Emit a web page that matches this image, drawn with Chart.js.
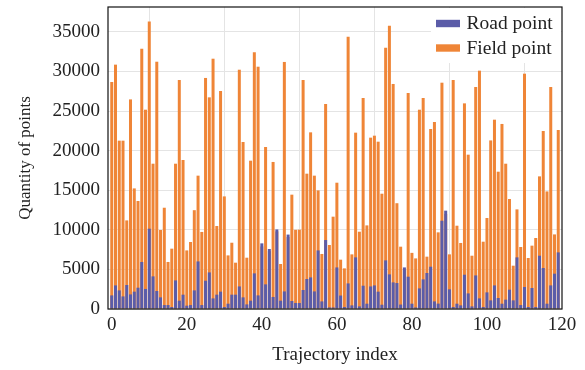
<!DOCTYPE html>
<html>
<head>
<meta charset="utf-8">
<script src="https://cdn.jsdelivr.net/npm/chart.js@4"></script>
<style>
html,body{margin:0;padding:0;background:#fff;}
#wrap{width:585px;height:370px;}
</style>
</head>
<body>
<div id="wrap"><canvas id="c" width="585" height="370"></canvas></div>
<script>
const seriesNames = ["Road point", "Field point"];
const roadPoints = [
 1720,2980,2350,1590,3030,1840,2190,2690,5940,2530,
 10140,4120,2270,1470,500,500,250,3610,1050,1810,
 420,500,2350,6010,500,3570,4620,1340,1810,2190,
 250,670,1810,1810,2850,1470,580,1050,4500,1720,
 8290,3110,7580,1520,10050,1050,2220,9400,1010,760,
 760,2400,3790,3990,2220,7400,960,8710,200,200,
 5250,1700,250,3230,460,6520,330,2940,670,2850,
 2980,2190,540,6140,4370,3360,3280,560,5250,4080,
 670,200,2600,3740,4550,5340,960,680,11150,12420,
 2480,250,670,460,4330,1970,330,4240,1340,250,
 2100,1090,2980,1390,670,1180,2440,1090,6520,500,
 2780,250,2650,250,6730,5180,670,2980,4460,7150
];
const fieldPoints = [
 28670,30860,21260,21260,11190,26470,15230,13640,32880,25170,
 36320,18350,31230,9980,12790,5940,7620,18350,28920,18820,
 7400,8460,12480,16840,9730,29180,26730,31610,10480,27530,
 14220,6770,8370,5850,30220,21090,6480,18730,32410,30600,
 7900,20460,7300,18570,9800,5680,31200,9100,14440,10000,
 10020,28920,17090,22310,16840,14980,6950,25890,8080,11660,
 15950,6230,5130,34390,6900,22270,9760,26650,10560,21640,
 21890,21130,14560,33000,35780,28420,13360,7870,5000,27280,
 7090,6390,25170,26650,6610,22730,23620,9680,28580,12000,
 6900,28920,10520,8340,25970,19490,6730,28040,30100,8500,
 11490,21290,23910,17340,23370,18350,13890,5470,12580,7830,
 29720,6440,8000,8970,16750,22480,14850,28040,9420,22610
];
const xTicks = [0, 20, 40, 60, 80, 100, 120];
const yTicks = [0, 5000, 10000, 15000, 20000, 25000, 30000, 35000];

const colors = ["#5b5ca8", "#ef8537"];
const FONT = "'Liberation Serif', 'DejaVu Serif', serif";

const framePlugin = {
  id: 'frameLegend',
  afterDraw(chart) {
    const {ctx, chartArea: {left, top, right, bottom}} = chart;
    ctx.save();
    const bx = right - 131, by = top + 1, bw = 130, bh = 55;
    ctx.fillStyle = '#ffffff';
    ctx.fillRect(bx, by, bw, bh);
    ctx.font = "19.5px " + FONT;
    ctx.textBaseline = 'middle';
    ctx.textAlign = 'left';
    const rows = [15.5, 40];
    seriesNames.forEach((name, k) => {
      ctx.fillStyle = colors[k];
      ctx.fillRect(bx + 5, by + rows[k] - 3.7, 24, 7.4);
      ctx.fillStyle = '#222';
      ctx.fillText(name, bx + 35.5, by + rows[k] + 0.5);
    });
    ctx.strokeStyle = '#111';
    ctx.lineWidth = 1.2;
    ctx.strokeRect(left, top, right - left, bottom - top);
    ctx.restore();
  }
};

new Chart(document.getElementById('c'), {
  type: 'bar',
  data: {
    datasets: [
      {
        label: seriesNames[0],
        data: roadPoints.map((v, i) => ({x: i, y: v})),
        backgroundColor: colors[0],
        grouped: false,
        order: 0
      },
      {
        label: seriesNames[1],
        data: fieldPoints.map((v, i) => ({x: i, y: v})),
        backgroundColor: colors[1],
        grouped: false,
        order: 1
      }
    ]
  },
  options: {
    responsive: false,
    animation: false,
    devicePixelRatio: 1,
    barPercentage: 0.8,
    categoryPercentage: 1.0,
    layout: {padding: {left: 0, right: 23, top: 7, bottom: 0}},
    plugins: {legend: {display: false}, tooltip: {enabled: false}},
    scales: {
      x: {
        type: 'linear',
        min: -1,
        max: 120,
        offset: false,
        afterFit(s) { s.height = 61; s.paddingLeft = 0; s.paddingRight = 0; },
        afterBuildTicks(s) { s.ticks = xTicks.map(v => ({value: v})); },
        ticks: {
          font: {family: FONT, size: 19},
          color: '#222',
          padding: 5,
          maxRotation: 0,
          autoSkip: false,
          callback: (v) => String(v)
        },
        grid: {color: '#e4e4e4', lineWidth: 1, drawTicks: false},
        border: {display: false},
        title: {
          display: true,
          text: 'Trajectory index',
          font: {family: FONT, size: 19},
          color: '#222',
          padding: {top: 0, bottom: 4}
        }
      },
      y: {
        min: 0,
        max: 38140,
        afterFit(s) { s.width = 108; s.paddingTop = 0; s.paddingBottom = 0; },
        afterBuildTicks(s) { s.ticks = yTicks.map(v => ({value: v})); },
        ticks: {
          font: {family: FONT, size: 19},
          color: '#222',
          padding: 8,
          autoSkip: false,
          callback: (v) => String(v)
        },
        grid: {color: '#e4e4e4', lineWidth: 1, drawTicks: false},
        border: {display: false},
        title: {
          display: true,
          text: 'Quantity of points',
          font: {family: FONT, size: 17},
          color: '#222',
          padding: {top: 15, bottom: 0}
        }
      }
    }
  },
  plugins: [framePlugin]
});
</script>
</body>
</html>
